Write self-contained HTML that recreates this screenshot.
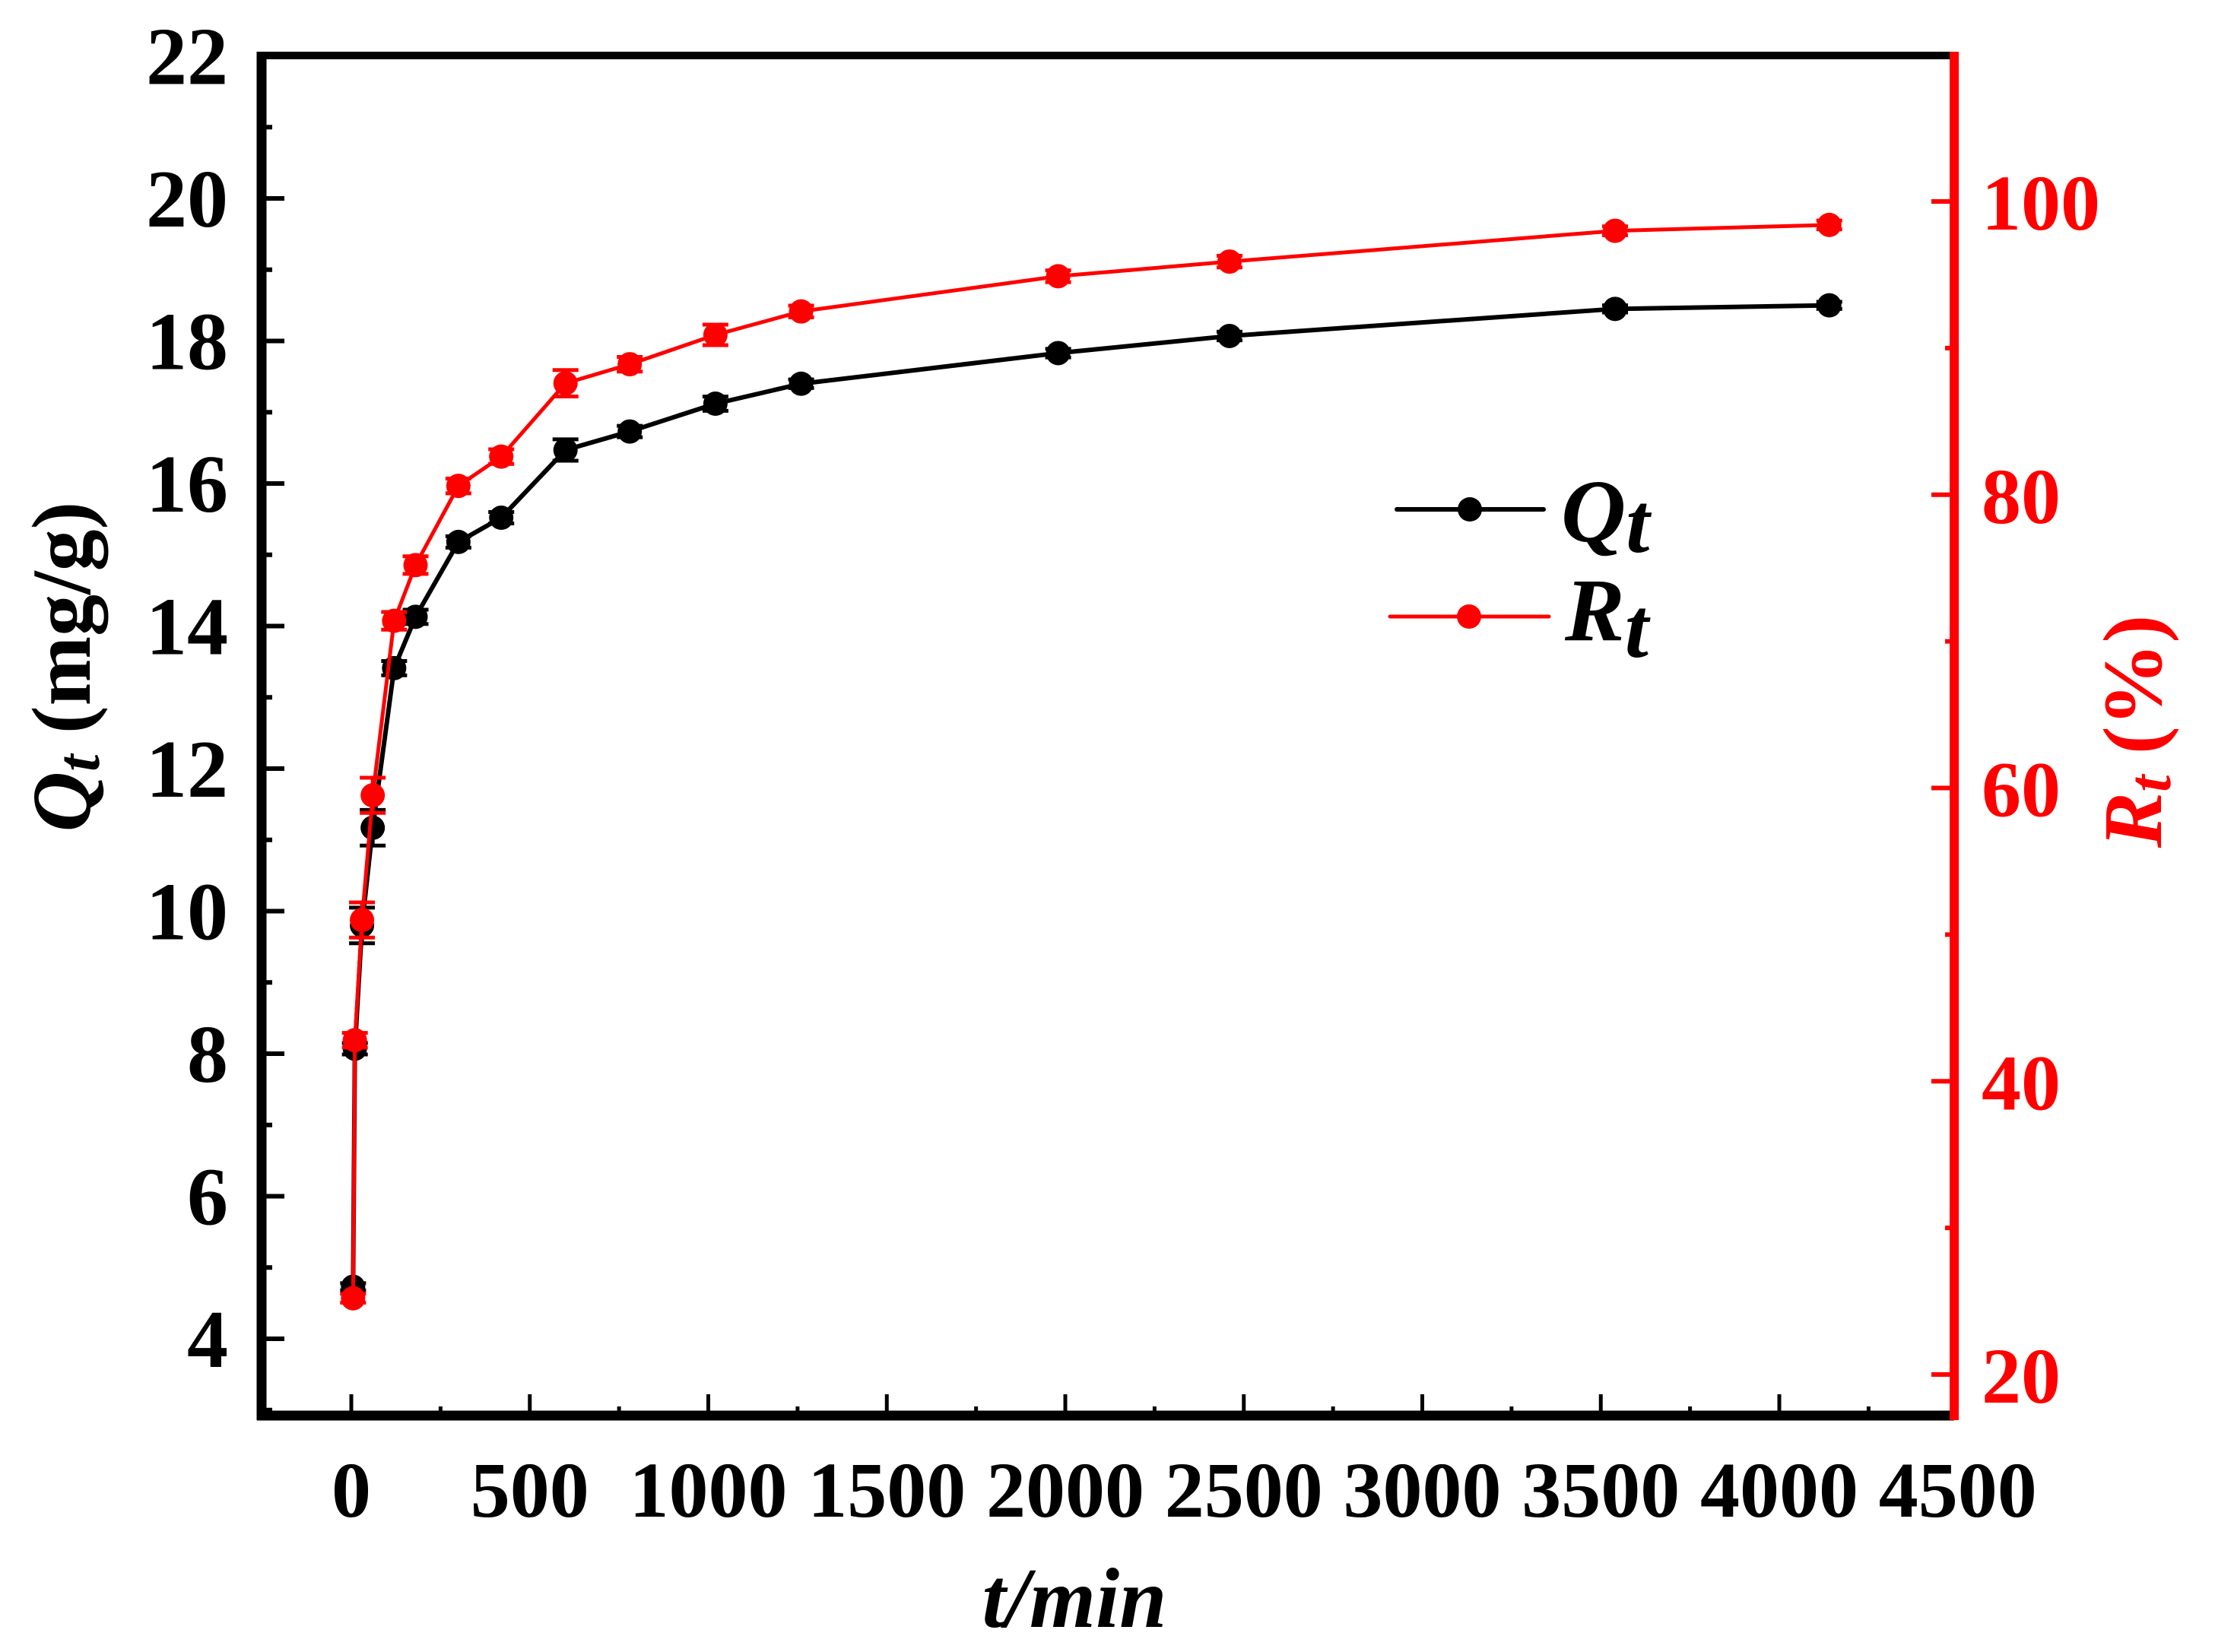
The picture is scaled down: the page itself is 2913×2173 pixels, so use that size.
<!DOCTYPE html>
<html><head><meta charset="utf-8"><style>
html,body{margin:0;padding:0;background:#fff;}
svg{display:block;font-family:"Liberation Serif",serif;font-weight:bold;}
</style></head><body>
<svg id="chart" width="2913" height="2173" viewBox="0 0 2913 2173" xmlns="http://www.w3.org/2000/svg">
<g id="plot"></g>
</svg>
<script>
const times = [5,10,30,60,120,180,300,420,600,780,1020,1260,1980,2460,3540,4140];
const qValues = [4.73,8.07,9.8,11.17,13.41,14.13,15.18,15.52,16.47,16.73,17.12,17.4,17.83,18.07,18.45,18.5];
const qErrors = [0.05,0.08,0.25,0.25,0.1,0.1,0.08,0.08,0.15,0.08,0.1,0.06,0.06,0.06,0.05,0.05];
const rValues = [25.2,42.8,51.0,59.5,71.4,75.2,80.6,82.6,87.6,88.9,90.9,92.5,94.9,95.9,98.0,98.4];
const rErrors = [0.3,0.5,1.2,1.2,0.6,0.6,0.5,0.5,0.9,0.5,0.7,0.4,0.4,0.4,0.3,0.3];
const xTicks = [0,500,1000,1500,2000,2500,3000,3500,4000,4500];
const leftTicks = [4,6,8,10,12,14,16,18,20,22];
const rightTicks = [20,40,60,80,100];

const NS='http://www.w3.org/2000/svg';
const g=document.getElementById('plot');
const L=344,R=2570,T=73,B=1862;
const X=v=>462+(v-0)*(2340-462)/4000;
const YL=v=>73.5+(22-v)*93.75;
const YR=v=>1808-(v-20)*(1808-265)/80;
function el(tag,attrs,parent){const e=document.createElementNS(NS,tag);for(const k in attrs)e.setAttribute(k,attrs[k]);(parent||g).appendChild(e);return e;}

for(let v=0;v<=4250;v+=250){
  const major=v%500===0;
  const t=el('line',{x1:X(v),x2:X(v),y1:B,y2:B-(major?28:12),stroke:'#000','stroke-width':5});
  
  
}
xTicks.forEach(v=>{
  const t=el('text',{x:X(v),y:1995,'text-anchor':'middle','font-size':104,fill:'#000'});
  t.textContent=v;
  
  
});
for(let v=3;v<=22;v+=1){
  const major=v%2===0;
  const t=el('line',{x1:L,x2:L+(major?30:14),y1:YL(v),y2:YL(v),stroke:'#000','stroke-width':6});
  
  
}
leftTicks.forEach(v=>{
  const t=el('text',{x:300,y:YL(v)+37,'text-anchor':'end','font-size':108,fill:'#000'});
  t.textContent=v;
  
  
});
for(let v=20;v<=110;v+=10){
  const major=v%20===0;
  const t=el('line',{x1:R,x2:R-(major?30:12),y1:YR(v),y2:YR(v),stroke:'#f00','stroke-width':6});
  
  
}
rightTicks.forEach(v=>{
  const t=el('text',{x:2606,y:YR(v)+37,'text-anchor':'start','font-size':104,fill:'#f00'});
  t.textContent=v;
  
  
});
const ft=el('line',{x1:L-6,x2:R,y1:T,y2:T,stroke:'#000','stroke-width':10});


const fl=el('line',{x1:L,x2:L,y1:T-5,y2:B+6,stroke:'#000','stroke-width':13});


const fb=el('line',{x1:L-6,x2:R,y1:B,y2:B,stroke:'#000','stroke-width':13});


const fr=el('line',{x1:R,x2:R,y1:T-5,y2:B+6,stroke:'#f00','stroke-width':12});



function series(vals,errs,Y,color,name,w){
  const pts=times.map((t,i)=>X(t)+','+Y(vals[i])).join(' ');
  const pl=el('polyline',{points:pts,fill:'none',stroke:color,'stroke-width':w,'stroke-linejoin':'round'});
  
  
  times.forEach((t,i)=>{
    const x=X(t),y1=Y(vals[i]+errs[i]),y2=Y(vals[i]-errs[i]);
    const e=el('path',{d:`M${x},${y1}V${y2}M${x-17},${y1}H${x+17}M${x-17},${y2}H${x+17}`,stroke:color,'stroke-width':5,fill:'none'});
    
    
    const c=el('circle',{cx:x,cy:Y(vals[i]),r:16,fill:color});
    
    
  });
}
series(qValues,qErrors,YL,'#000','qt',6);
series(rValues,rErrors,YR,'#f00','rt',5);

const l1=el('line',{x1:1837,x2:2030,y1:670,y2:670,stroke:'#000','stroke-width':6,'stroke-linecap':'round'});


const c1=el('circle',{cx:1933,cy:670,r:16,fill:'#000'});


const l2=el('line',{x1:1828,x2:2037,y1:811,y2:811,stroke:'#f00','stroke-width':5,'stroke-linecap':'round'});


const c2=el('circle',{cx:1932,cy:811,r:16,fill:'#f00'});


</script>
<svg style="position:absolute;left:0;top:0" width="2913" height="2173" xmlns="http://www.w3.org/2000/svg" font-family="Liberation Serif, serif" font-weight="bold">
<text x="2053" y="712" font-size="118" font-style="italic">Q<tspan font-size="112" dy="14">t</tspan></text>
<text x="2058" y="842" font-size="118" font-style="italic">R<tspan font-size="112" dy="22">t</tspan></text>
<text x="1413" y="2140" text-anchor="middle" font-size="112" font-style="italic">t/min</text>
<text transform="translate(118,877) rotate(-90)" text-anchor="middle" font-size="110"><tspan font-style="italic">Q</tspan><tspan font-style="italic" font-size="80" dy="12">t</tspan><tspan dy="-12"> (mg/g)</tspan></text>
<text transform="translate(2842,962) rotate(-90)" text-anchor="middle" font-size="110" fill="#f00"><tspan font-style="italic">R</tspan><tspan font-style="italic" font-size="80" dy="12">t</tspan><tspan dy="-12"> (%)</tspan></text>
</svg>
</body></html>
